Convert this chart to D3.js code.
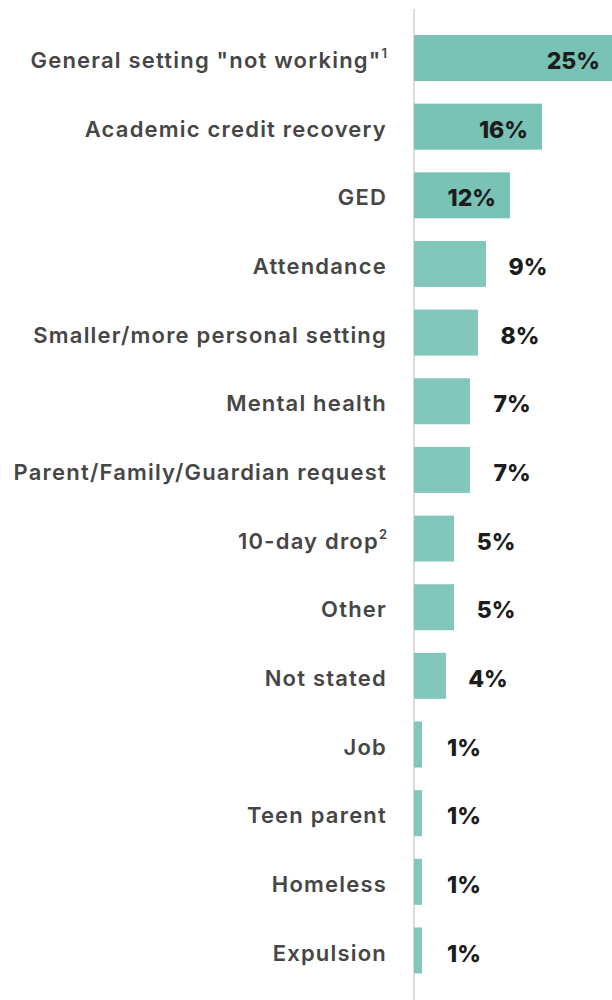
<!DOCTYPE html>
<html>
<head>
<meta charset="utf-8">
<script src="https://cdn.jsdelivr.net/npm/d3@7"></script>
<style>
  html, body { margin: 0; padding: 0; background: #ffffff; }
  svg { display: block; }
</style>
</head>
<body>
<div id="chart"></div>
<script>
// Reasons for leaving / transfer, share of students (%)
const categories = [
  "General setting \"not working\"",
  "Academic credit recovery",
  "GED",
  "Attendance",
  "Smaller/more personal setting",
  "Mental health",
  "Parent/Family/Guardian request",
  "10-day drop",
  "Other",
  "Not stated",
  "Job",
  "Teen parent",
  "Homeless",
  "Expulsion"
];
const values = [25, 16, 12, 9, 8, 7, 7, 5, 5, 4, 1, 1, 1, 1];
// footnote markers attached to some category labels
const footnotes = ["1", "", "", "", "", "", "", "2", "", "", "", "", "", ""];

const width = 612, height = 1000;
const axisX = 414;

const svg = d3.select("#chart").append("svg")
  .attr("width", width)
  .attr("height", height);

const data = categories.map((c, i) => ({ cat: c, value: values[i], note: footnotes[i], i }));

const x = d3.scaleLinear().domain([0, 25]).range([axisX, axisX + 200]);
const y = d3.scaleBand()
  .domain(categories)
  .range([23.7, 23.7 + 14 * 68.65])
  .paddingInner(0.33)
  .paddingOuter(0.165);

// baseline axis
svg.append("line")
  .attr("x1", axisX).attr("x2", axisX)
  .attr("y1", 9).attr("y2", height)
  .attr("stroke", "#dcdcdc")
  .attr("stroke-width", 2);

// bars
svg.append("g").selectAll("rect")
  .data(data)
  .join("rect")
  .attr("x", x(0))
  .attr("y", d => y(d.cat))
  .attr("width", d => x(d.value) - x(0))
  .attr("height", y.bandwidth())
  .attr("fill", d => d.i < 3 ? "#78c2b6" : "#83c7bc");

// category labels
const labels = svg.append("g").selectAll("text")
  .data(data)
  .join("text")
  .attr("x", 387)
  .attr("y", d => y(d.cat) + y.bandwidth() / 2)
  .attr("dy", "0.46em")
  .attr("text-anchor", "end")
  .attr("font-family", "Inter, sans-serif")
  .attr("font-weight", 600)
  .attr("font-size", 22)
  .attr("letter-spacing", 1.2)
  .attr("fill", "#464646");
labels.append("tspan").text(d => d.cat);
labels.filter(d => d.note).append("tspan")
  .attr("font-size", 13)
  .attr("letter-spacing", 0)
  .attr("dy", "-0.75em")
  .text(d => d.note);

// value labels
svg.append("g").selectAll("text")
  .data(data)
  .join("text")
  .attr("x", d => d.value >= 12 ? x(d.value) - 14 : x(d.value) + 42)
  .attr("y", d => y(d.cat) + y.bandwidth() / 2)
  .attr("dy", "0.48em")
  .attr("text-anchor", d => d.value >= 12 ? "end" : "middle")
  .attr("font-family", "Inter, sans-serif")
  .attr("font-weight", 800)
  .attr("font-size", 23)
  .attr("fill", "#1c1c1c")
  .text(d => d.value + "%");
</script>
</body>
</html>
